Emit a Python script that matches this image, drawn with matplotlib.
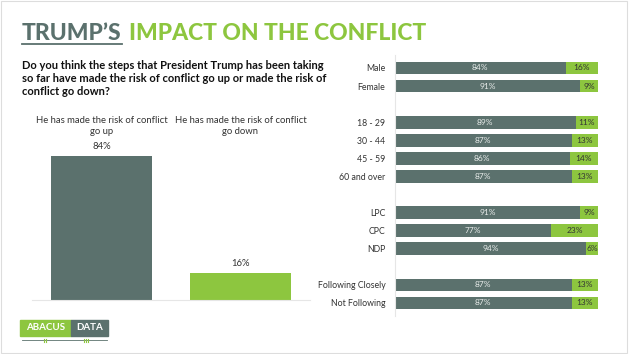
import matplotlib
matplotlib.use('Agg')
import matplotlib.pyplot as plt
from matplotlib.patches import Rectangle
from matplotlib.lines import Line2D

DARK = '#5b716d'
GREEN = '#8dc63f'

# overall question
overall_labels = ['He has made the risk of conflict\ngo up', 'He has made the risk of conflict\ngo down']
overall_values = [84, 16]

# breakdown by group
groups = ['Male', 'Female', '18 - 29', '30 - 44', '45 - 59', '60 and over',
          'LPC', 'CPC', 'NDP', 'Following Closely', 'Not Following']
rows = [0, 1, 3, 4, 5, 6, 8, 9, 10, 12, 13]
up = [84, 91, 89, 87, 86, 87, 91, 77, 94, 87, 87]
down = [16, 9, 11, 13, 14, 13, 9, 23, 6, 13, 13]

plt.rcParams['font.family'] = ['Lato', 'DejaVu Sans']

W, H = 630, 354
fig = plt.figure(figsize=(6.3, 3.54), dpi=100)
fig.patch.set_facecolor('white')

def fx(px):
    return px / W

def fy(py):
    return 1 - py / H

# title
renderer = fig.canvas.get_renderer()
t1 = fig.text(fx(22), fy(40), "TRUMP\u2019S", fontsize=16.5, fontweight='black',
              color=DARK, ha='left', va='baseline')
bb = t1.get_window_extent(renderer)
x_end = bb.x1 / W
fig.add_artist(Line2D([fx(22), x_end], [fy(43.5), fy(43.5)], color=DARK, lw=1.3))
fig.text(x_end + fx(7), fy(40), 'IMPACT ON THE CONFLICT', fontsize=16.5,
         fontweight='black', color=GREEN, ha='left', va='baseline')

# question
fig.text(fx(22), fy(60),
         'Do you think the steps that President Trump has been taking\n'
         'so far have made the risk of conflict go up or made the risk of\n'
         'conflict go down?',
         fontsize=8, fontweight='bold', color='#111111', ha='left', va='top',
         linespacing=1.2)

# left chart
axl = fig.add_axes([fx(32), fy(300), fx(278), 171 / H])
xs = list(range(len(overall_values)))
axl.bar(xs, overall_values, width=0.73, color=[DARK, GREEN])
axl.set_xlim(-0.5, 1.5)
axl.set_ylim(0, 100)
for x, v in zip(xs, overall_values):
    axl.text(x, v + 3, f'{v}%', ha='center', va='bottom', fontsize=6.8, color='#333333')
for x, lab in zip(xs, overall_labels):
    fig.text(fx(32) + (x + 0.5) / 2 * fx(278), fy(126), lab, ha='center', va='center',
             fontsize=6.8, color='#333333', linespacing=1.2)
axl.set_xticks([])
axl.set_yticks([])
for s in ['top', 'right', 'left']:
    axl.spines[s].set_visible(False)
axl.spines['bottom'].set_color('#e6e6e6')
axl.spines['bottom'].set_linewidth(0.8)

# right chart
axr = fig.add_axes([fx(395), fy(315.6), fx(203), 260.3 / H])
axr.barh(rows, up, height=0.7, color=DARK)
axr.barh(rows, down, left=up, height=0.7, color=GREEN)
for r, u, d in zip(rows, up, down):
    axr.text(u / 2, r, f'{u}%', ha='center', va='center', fontsize=6, color='#e8ecea')
    axr.text(u + d / 2, r, f'{d}%', ha='center', va='center', fontsize=6, color='#333333')
axr.set_xlim(0, 100)
axr.set_ylim(13.7, -0.7)
axr.set_yticks(rows)
axr.set_yticklabels(groups, fontsize=6.3, color='#333333')
axr.tick_params(axis='y', length=0, pad=7)
axr.set_xticks([])
for s in ['top', 'right', 'bottom']:
    axr.spines[s].set_visible(False)
axr.spines['left'].set_color('#e6e6e6')
axr.spines['left'].set_linewidth(0.8)

# logo
fig.add_artist(Rectangle((fx(20), fy(336)), fx(51), 16 / H, color=GREEN,
                         transform=fig.transFigure))
fig.add_artist(Rectangle((fx(71), fy(336)), fx(37), 16 / H, color=DARK,
                         transform=fig.transFigure))
fig.text(fx(45.5), fy(328), 'ABACUS', ha='center', va='center', fontsize=7,
         fontweight='bold', color='white')
fig.text(fx(89.5), fy(328), 'DATA', ha='center', va='center', fontsize=7,
         fontweight='bold', color='white')
fig.add_artist(Line2D([fx(22), fx(107)], [fy(340), fy(340)], color=DARK, lw=0.6))
for px in [44, 46, 84, 86, 88]:
    fig.add_artist(Line2D([fx(px), fx(px)], [fy(338.5), fy(341.5)], color=GREEN, lw=0.8))

# light frame
fig.add_artist(Rectangle((0.002, 0.003), 0.994, 0.994, fill=False, ec='#dddddd',
                         lw=0.8, transform=fig.transFigure))

fig.savefig('out.png', dpi=100)
